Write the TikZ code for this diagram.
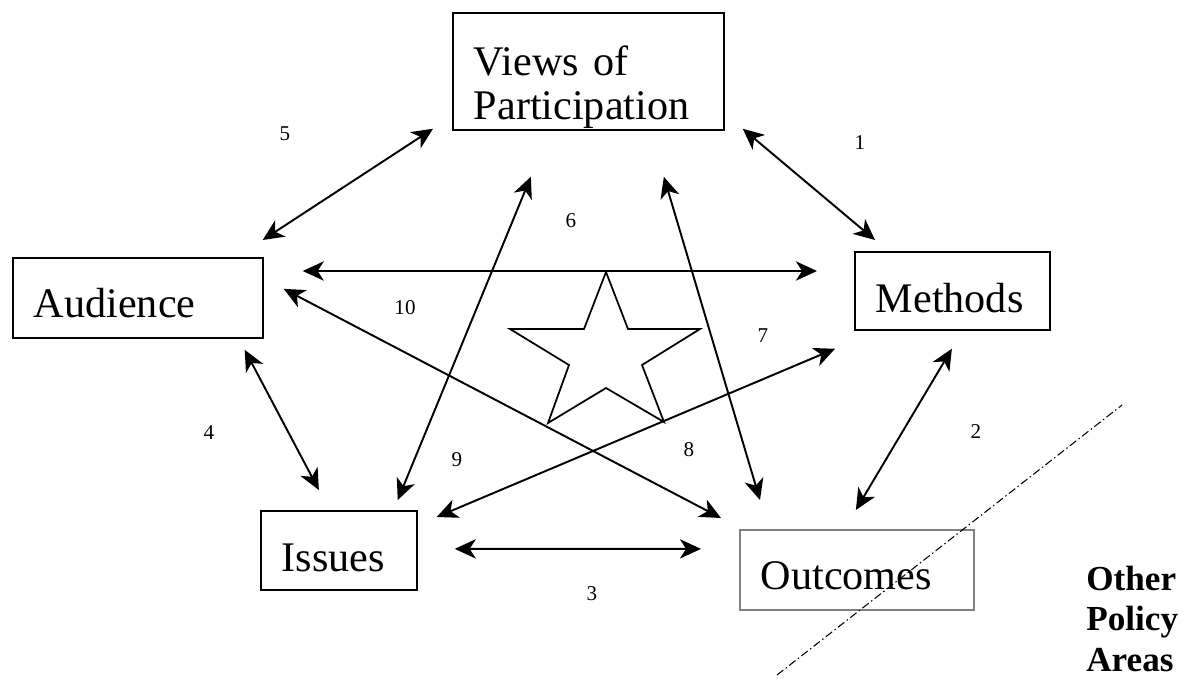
\documentclass[tikz,border=0pt]{standalone}
\usepackage{fontspec}
\setmainfont{Liberation Serif}
\usepackage{tikz}
\usetikzlibrary{arrows.meta,calc,positioning}
\tikzset{
  box/.style={draw, line width=1pt, anchor=north west, inner xsep=0.42cm, inner ysep=0pt,
    align=left, font=\fontsize{24}{25}\selectfont},
  link/.style={arrows={Stealth[length=12pt,width=11pt,inset=3.5pt]-Stealth[length=12pt,width=11pt,inset=3.5pt]},
    line width=1.1pt},
  num/.style={font=\fontsize{12}{14}\selectfont, inner sep=1pt}
}

\begin{document}
\begin{tikzpicture}[x=0.02cm, y=-0.02cm]
\useasboundingbox (0,0) rectangle (1193,677);
% the five boxes
\node[box, text width=4.58cm, text height=2.14cm, text depth=0.2cm] (views) at (452,12)
  {\begin{tabular}[b]{@{}l@{}}Views of\\Participation\end{tabular}};
\node[box, text width=4.16cm, text height=1.2cm, text depth=0.4cm] (aud) at (12,257) {Audience};
\node[box, text width=3.06cm, text height=1.21cm, text depth=0.35cm] (meth) at (854,251) {Methods};
\node[box, text width=2.28cm, text height=1.21cm, text depth=0.37cm] (iss) at (260,510) {Issues};
\node[box, draw=black!50, text width=3.84cm, text height=1.2cm, text depth=0.4cm] (out) at (739,529) {Outcomes};
% star in the middle
\draw[line width=1pt] (606,272) -- (628,329) -- (700,329) -- (642,365) -- (664,422) -- (606,388)
  -- (548,423) -- (569,365) -- (510,329) -- (584,329) -- cycle;
% links
\draw[link] ($(views.south east)+(18,-2)$) -- ($(meth.north west)+(21,-11)$);
\draw[link] ($(meth.south)+(-0.5,18)$) -- ($(out.north)+(-1,-19)$);
\draw[link] ($(iss.east)+(37,-1.5)$) -- ($(out.west)+(-38,-21)$);
\draw[link] ($(aud.south east)+(-19,11)$) -- ($(iss.north)+(-20,-20)$);
\draw[link] ($(views.south west)+(-19,-2)$) -- ($(aud.north east)+(-1,-17)$);
\draw[link] ($(aud.north east)+(39,14)$) -- ($(meth.north west)+(-37,20)$);
\draw[link] ($(meth.south west)+(-19,18)$) -- ($(iss.north east)+(19,7)$);
\draw[link] ($(views.south)+(75.5,46)$) -- ($(out.north west)+(21,-29)$);
\draw[link] ($(views.south)+(-57.5,46)$) -- ($(iss.north east)+(-20,-10)$);
\draw[link] ($(aud.east)+(20,-9)$) -- ($(out.north west)+(-18,-11)$);
% numbers
\node[num] (n1) at (860,143) {1};
\node[num] (n2) at (976,432) {2};
\node[num] (n3) at (592,594) {3};
\node[num] (n4) at (209,433) {4};
\node[num] (n5) at (285,134) {5};
\node[num] (n6) at (571,221) {6};
\node[num] (n7) at (763,336) {7};
\node[num] (n8) at (689,450) {8};
\node[num] (n9) at (457,460) {9};
\node[num] (n10) at (405,308) {10};
% border to other areas
\draw[line width=0.6pt, dash pattern=on 0.16cm off 0.06cm on 0.03cm off 0.06cm] (777,675) -- (1122,405);
\node[anchor=base west, inner sep=0pt, font=\fontsize{20}{23.3}\selectfont\bfseries] (other) at (1086,590)
  {\begin{tabular}[t]{@{}l@{}}Other\\Policy\\Areas\end{tabular}};
\end{tikzpicture}
\end{document}
